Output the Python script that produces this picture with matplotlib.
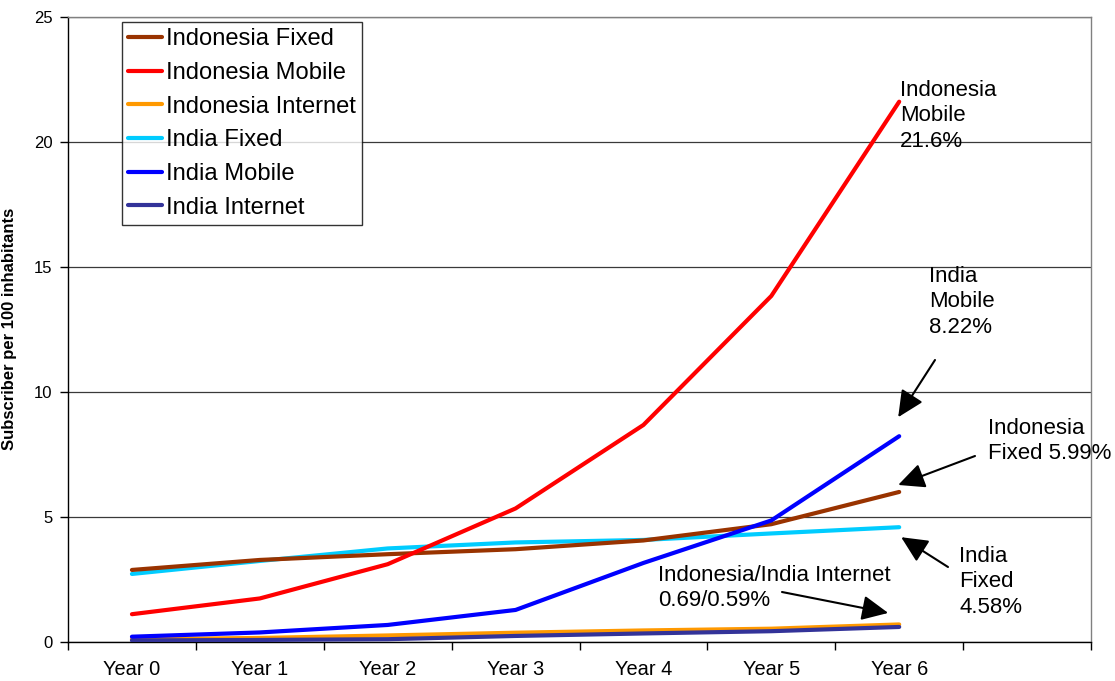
import matplotlib
matplotlib.use("Agg")
import matplotlib.pyplot as plt
from matplotlib.transforms import offset_copy
from matplotlib.ticker import FixedLocator, NullFormatter

plt.rcParams['font.family'] = ['Liberation Sans', 'DejaVu Sans']

# Categories (the last slot is left empty on the axis)
years = ["Year 0", "Year 1", "Year 2", "Year 3", "Year 4", "Year 5", "Year 6"]
n_slots = 8

# Subscribers per 100 inhabitants
indonesia_fixed = [2.87, 3.27, 3.50, 3.70, 4.05, 4.70, 5.99]
indonesia_mobile = [1.10, 1.73, 3.10, 5.33, 8.67, 13.83, 21.6]
indonesia_internet = [0.10, 0.15, 0.25, 0.36, 0.45, 0.52, 0.69]
india_fixed = [2.71, 3.23, 3.73, 3.97, 4.07, 4.33, 4.58]
india_mobile = [0.20, 0.37, 0.67, 1.27, 3.15, 4.85, 8.22]
india_internet = [0.05, 0.07, 0.10, 0.23, 0.33, 0.42, 0.59]

series = [
    ("Indonesia Fixed", indonesia_fixed, "#993300"),
    ("Indonesia Mobile", indonesia_mobile, "#FF0000"),
    ("Indonesia Internet", indonesia_internet, "#FF9900"),
    ("India Fixed", india_fixed, "#00CCFF"),
    ("India Mobile", india_mobile, "#0000FF"),
    ("India Internet", india_internet, "#333399"),
]

W, H, DPI = 1115, 681, 100
fig = plt.figure(figsize=(W / DPI, H / DPI), dpi=DPI)
ax = fig.add_axes([68 / W, 1 - 641.7 / H, 1023 / W, 625 / H])

x = list(range(len(years)))
# draw order: internet first so mobile/fixed sit on top
draw_order = [2, 5, 3, 0, 4, 1]
handles = {}
for i in draw_order:
    name, vals, col = series[i]
    (ln,) = ax.plot(x, vals, color=col, lw=3.0, solid_capstyle="round",
                    solid_joinstyle="round", label=name, zorder=3)
    handles[i] = ln

ax.set_xlim(-0.5, n_slots - 0.5)
ax.set_ylim(0, 25)

# Category labels centred, tick marks on the boundaries
ax.set_xticks(x)
ax.set_xticklabels(years, fontsize=14.4)
ax.xaxis.set_minor_locator(FixedLocator([k - 0.5 for k in range(n_slots + 1)]))
ax.xaxis.set_minor_formatter(NullFormatter())
ax.tick_params(axis="x", which="major", length=0, pad=13)
ax.tick_params(axis="x", which="minor", length=6, width=1, color="black",
               direction="out")

ax.set_yticks([0, 5, 10, 15, 20, 25])
ax.tick_params(axis="y", labelsize=12, length=6, width=1, direction="out", pad=5)

ax.grid(axis="y", color="#3a3a3a", lw=0.9, zorder=1)
ax.set_axisbelow(True)
for side in ("left", "bottom"):
    ax.spines[side].set_color("black")
    ax.spines[side].set_linewidth(1.0)
for side in ("top", "right"):
    ax.spines[side].set_color("#808080")
    ax.spines[side].set_linewidth(1.0)

ax.set_ylabel("Subscriber per 100 inhabitants", fontsize=12, fontweight="bold",
              labelpad=12)

leg = ax.legend([handles[i] for i in range(6)], [s[0] for s in series],
                loc="upper left", bbox_to_anchor=((122 - 68) / 1023, (641.7 - 22) / 625),
                borderaxespad=0, fontsize=17.1, frameon=True, fancybox=False,
                edgecolor="black", handlelength=1.4, handletextpad=0.18,
                labelspacing=0.49, borderpad=0.27)
leg.get_frame().set_linewidth(1.0)


def fig_pt(px, py):
    return (px / W, 1 - py / H)


def end_point(dx_px, dy_px):
    # endpoint of a series shifted by screen pixels (y downward)
    return offset_copy(ax.transData, fig=fig, x=dx_px, y=-dy_px, units="dots")


annot_fs = 16.0
ls = 1.27
last = len(years) - 1

# text labels
ax.text(*fig_pt(900, 80), "Indonesia\nMobile\n21.6%", transform=fig.transFigure,
        fontsize=annot_fs, ha="left", va="top", linespacing=ls)
ax.text(*fig_pt(929, 266), "India\nMobile\n8.22%", transform=fig.transFigure,
        fontsize=annot_fs, ha="left", va="top", linespacing=ls)
ax.text(*fig_pt(988, 418), "Indonesia\nFixed 5.99%", transform=fig.transFigure,
        fontsize=annot_fs, ha="left", va="top", linespacing=ls)
ax.text(*fig_pt(959, 546), "India\nFixed\n4.58%", transform=fig.transFigure,
        fontsize=annot_fs, ha="left", va="top", linespacing=ls)
ax.text(*fig_pt(658, 565), "Indonesia/India Internet\n0.69/0.59%",
        transform=fig.transFigure, fontsize=annot_fs, ha="left", va="top",
        linespacing=ls)

arrow_kw = dict(arrowstyle="-|>,head_length=0.95,head_width=0.45", color="black",
                lw=1.5, shrinkA=0, shrinkB=0, mutation_scale=17)

# arrows: tip near the series' last point, tail near the label
arrows = [
    (india_mobile[last], (-1, -19), (935, 360)),
    (indonesia_fixed[last], (-1, -7), (975, 456)),
    (india_fixed[last], (2, 10), (948, 567)),
    (india_internet[last], (-11, -14), (782, 592)),
]
for val, tip_off, tail in arrows:
    ax.annotate("", xy=(last, val), xycoords=end_point(*tip_off),
                xytext=fig_pt(*tail), textcoords=fig.transFigure,
                arrowprops=arrow_kw, annotation_clip=False)

fig.savefig("out.png", dpi=DPI, facecolor="white")
